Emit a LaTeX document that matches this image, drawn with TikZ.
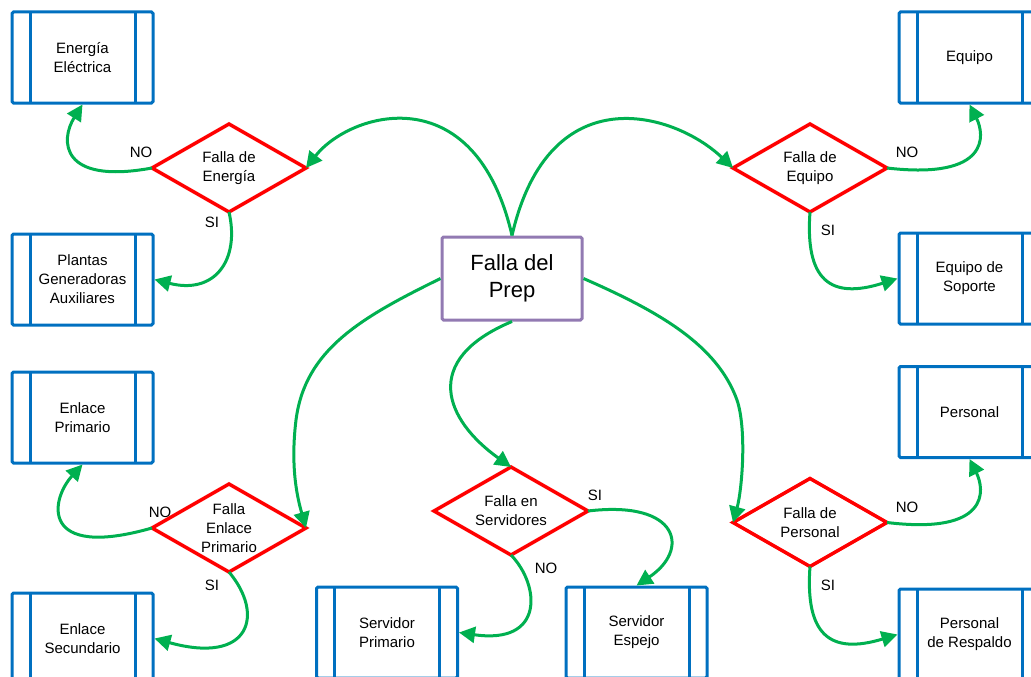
\documentclass[tikz,border=0pt]{standalone}
\usepackage{fontspec}
\setmainfont{Liberation Sans}
\usetikzlibrary{shapes.geometric,arrows.meta}
\definecolor{boxblue}{RGB}{0,112,192}
\definecolor{dred}{RGB}{255,0,0}
\definecolor{cgreen}{RGB}{0,176,80}
\definecolor{prepurple}{RGB}{146,122,178}
\tikzset{
  pbox/.style={draw=boxblue, line width=3pt, rectangle, rounded corners=1.5pt,
    minimum width=141pt, minimum height=91pt, inner sep=0pt, align=center,
    font=\fontsize{15}{19}\selectfont,
    path picture={\draw[boxblue, line width=3pt]
      ([xshift=18pt]path picture bounding box.north west) -- ([xshift=18pt]path picture bounding box.south west)
      ([xshift=-18pt]path picture bounding box.north east) -- ([xshift=-18pt]path picture bounding box.south east);}},
  dec/.style={draw=dred, line width=3.5pt, diamond, aspect=1.75,
    minimum width=154pt, minimum height=88pt, inner sep=0pt, outer sep=0pt,
    align=center, font=\fontsize{15}{19}\selectfont},
  prepbox/.style={draw=prepurple, line width=3pt, rectangle, rounded corners=1.5pt,
    minimum width=140pt, minimum height=83pt, inner sep=0pt, align=center,
    font=\fontsize{22}{27}\selectfont},
  conn/.style={draw=cgreen, line width=3pt, -{Triangle[length=16pt,width=16pt]}},
  lbl/.style={font=\fontsize{15}{19}\selectfont, inner sep=0pt}
}
\begin{document}
\begin{tikzpicture}[x=1pt,y=-1pt]
\useasboundingbox (0,0) rectangle (1031,677);
% boxes
\node[pbox] (b1) at (82.5,57.5) {Energía\\Eléctrica};
\node[pbox] (b2) at (82.5,279.5) {Plantas\\Generadoras\\Auxiliares};
\node[pbox] (b3) at (82.5,417.5) {Enlace\\Primario};
\node[pbox] (b4) at (82.5,638.5) {Enlace\\Secundario};
\node[pbox] (b5) at (969.5,57.5) {Equipo};
\node[pbox] (b6) at (969.5,278.5) {Equipo de\\Soporte};
\node[pbox] (b7) at (969.5,412) {Personal};
\node[pbox] (b8) at (969.5,634.5) {Personal\\de Respaldo};
\node[pbox] (b9) at (387,632.5) {Servidor\\Primario};
\node[pbox] (b10) at (636.5,632.5) {Servidor\\Espejo};
% center
\node[prepbox] (prep) at (512,278.5) {Falla del\\Prep};
% decisions
\node[dec] (d1) at (229,168) {Falla de\\Energía};
\node[dec] (d2) at (810,168) {Falla de\\Equipo};
\node[dec] (d3) at (229,528) {Falla\\Enlace\\Primario};
\node[dec] (d4) at (511,511) {Falla en\\Servidores};
\node[dec] (d5) at (810,522.5) {Falla de\\Personal};
% connectors from center
\draw[conn] (prep.north) .. controls (475,75) and (350,112) .. (d1.east);
\draw[conn] (prep.north) .. controls (549,75) and (674,112) .. (d2.west);
\draw[conn] (prep.west) .. controls (360,318) and (305,350) .. (296,420) .. controls (290,469) and (298,500) .. (d3.east);
\draw[conn] (prep.east) .. controls (660,312) and (717,345) .. (737,400) .. controls (747,430) and (742,490) .. (d5.west);
\draw[conn] (prep.south) .. controls (420,360) and (445,420) .. (d4.north);
% branches
\draw[conn] (d1.west) .. controls (60,185) and (60,140) .. (b1.south);
\draw[conn] (d1.south) .. controls (240,260) and (215,295) .. (b2.east);
\draw[conn] (d2.east) .. controls (990,180) and (985,135) .. (b5.south);
\draw[conn] (d2.south) .. controls (805,280) and (830,300) .. (b6.west);
\draw[conn] (d3.west) .. controls (40,560) and (50,500) .. (b3.south);
\draw[conn] (d3.south) .. controls (265,615) and (250,665) .. (b4.east);
\draw[conn] (d4.east) .. controls (680,500) and (690,550) .. (b10.north);
\draw[conn] (d4.south) .. controls (540,585) and (545,645) .. (b9.east);
\draw[conn] (d5.east) .. controls (990,535) and (985,490) .. (b7.south);
\draw[conn] (d5.south) .. controls (805,635) and (830,655) .. (b8.west);
% labels
\node[lbl] (l1) at (141,152) {NO};
\node[lbl] (l2) at (212,222) {SI};
\node[lbl] (l3) at (907,152) {NO};
\node[lbl] (l4) at (828,230) {SI};
\node[lbl] (l5) at (160,512) {NO};
\node[lbl] (l6) at (212,585) {SI};
\node[lbl] (l7) at (595,495) {SI};
\node[lbl] (l8) at (546,568) {NO};
\node[lbl] (l9) at (907,507) {NO};
\node[lbl] (l10) at (828,585) {SI};
\end{tikzpicture}
\end{document}
